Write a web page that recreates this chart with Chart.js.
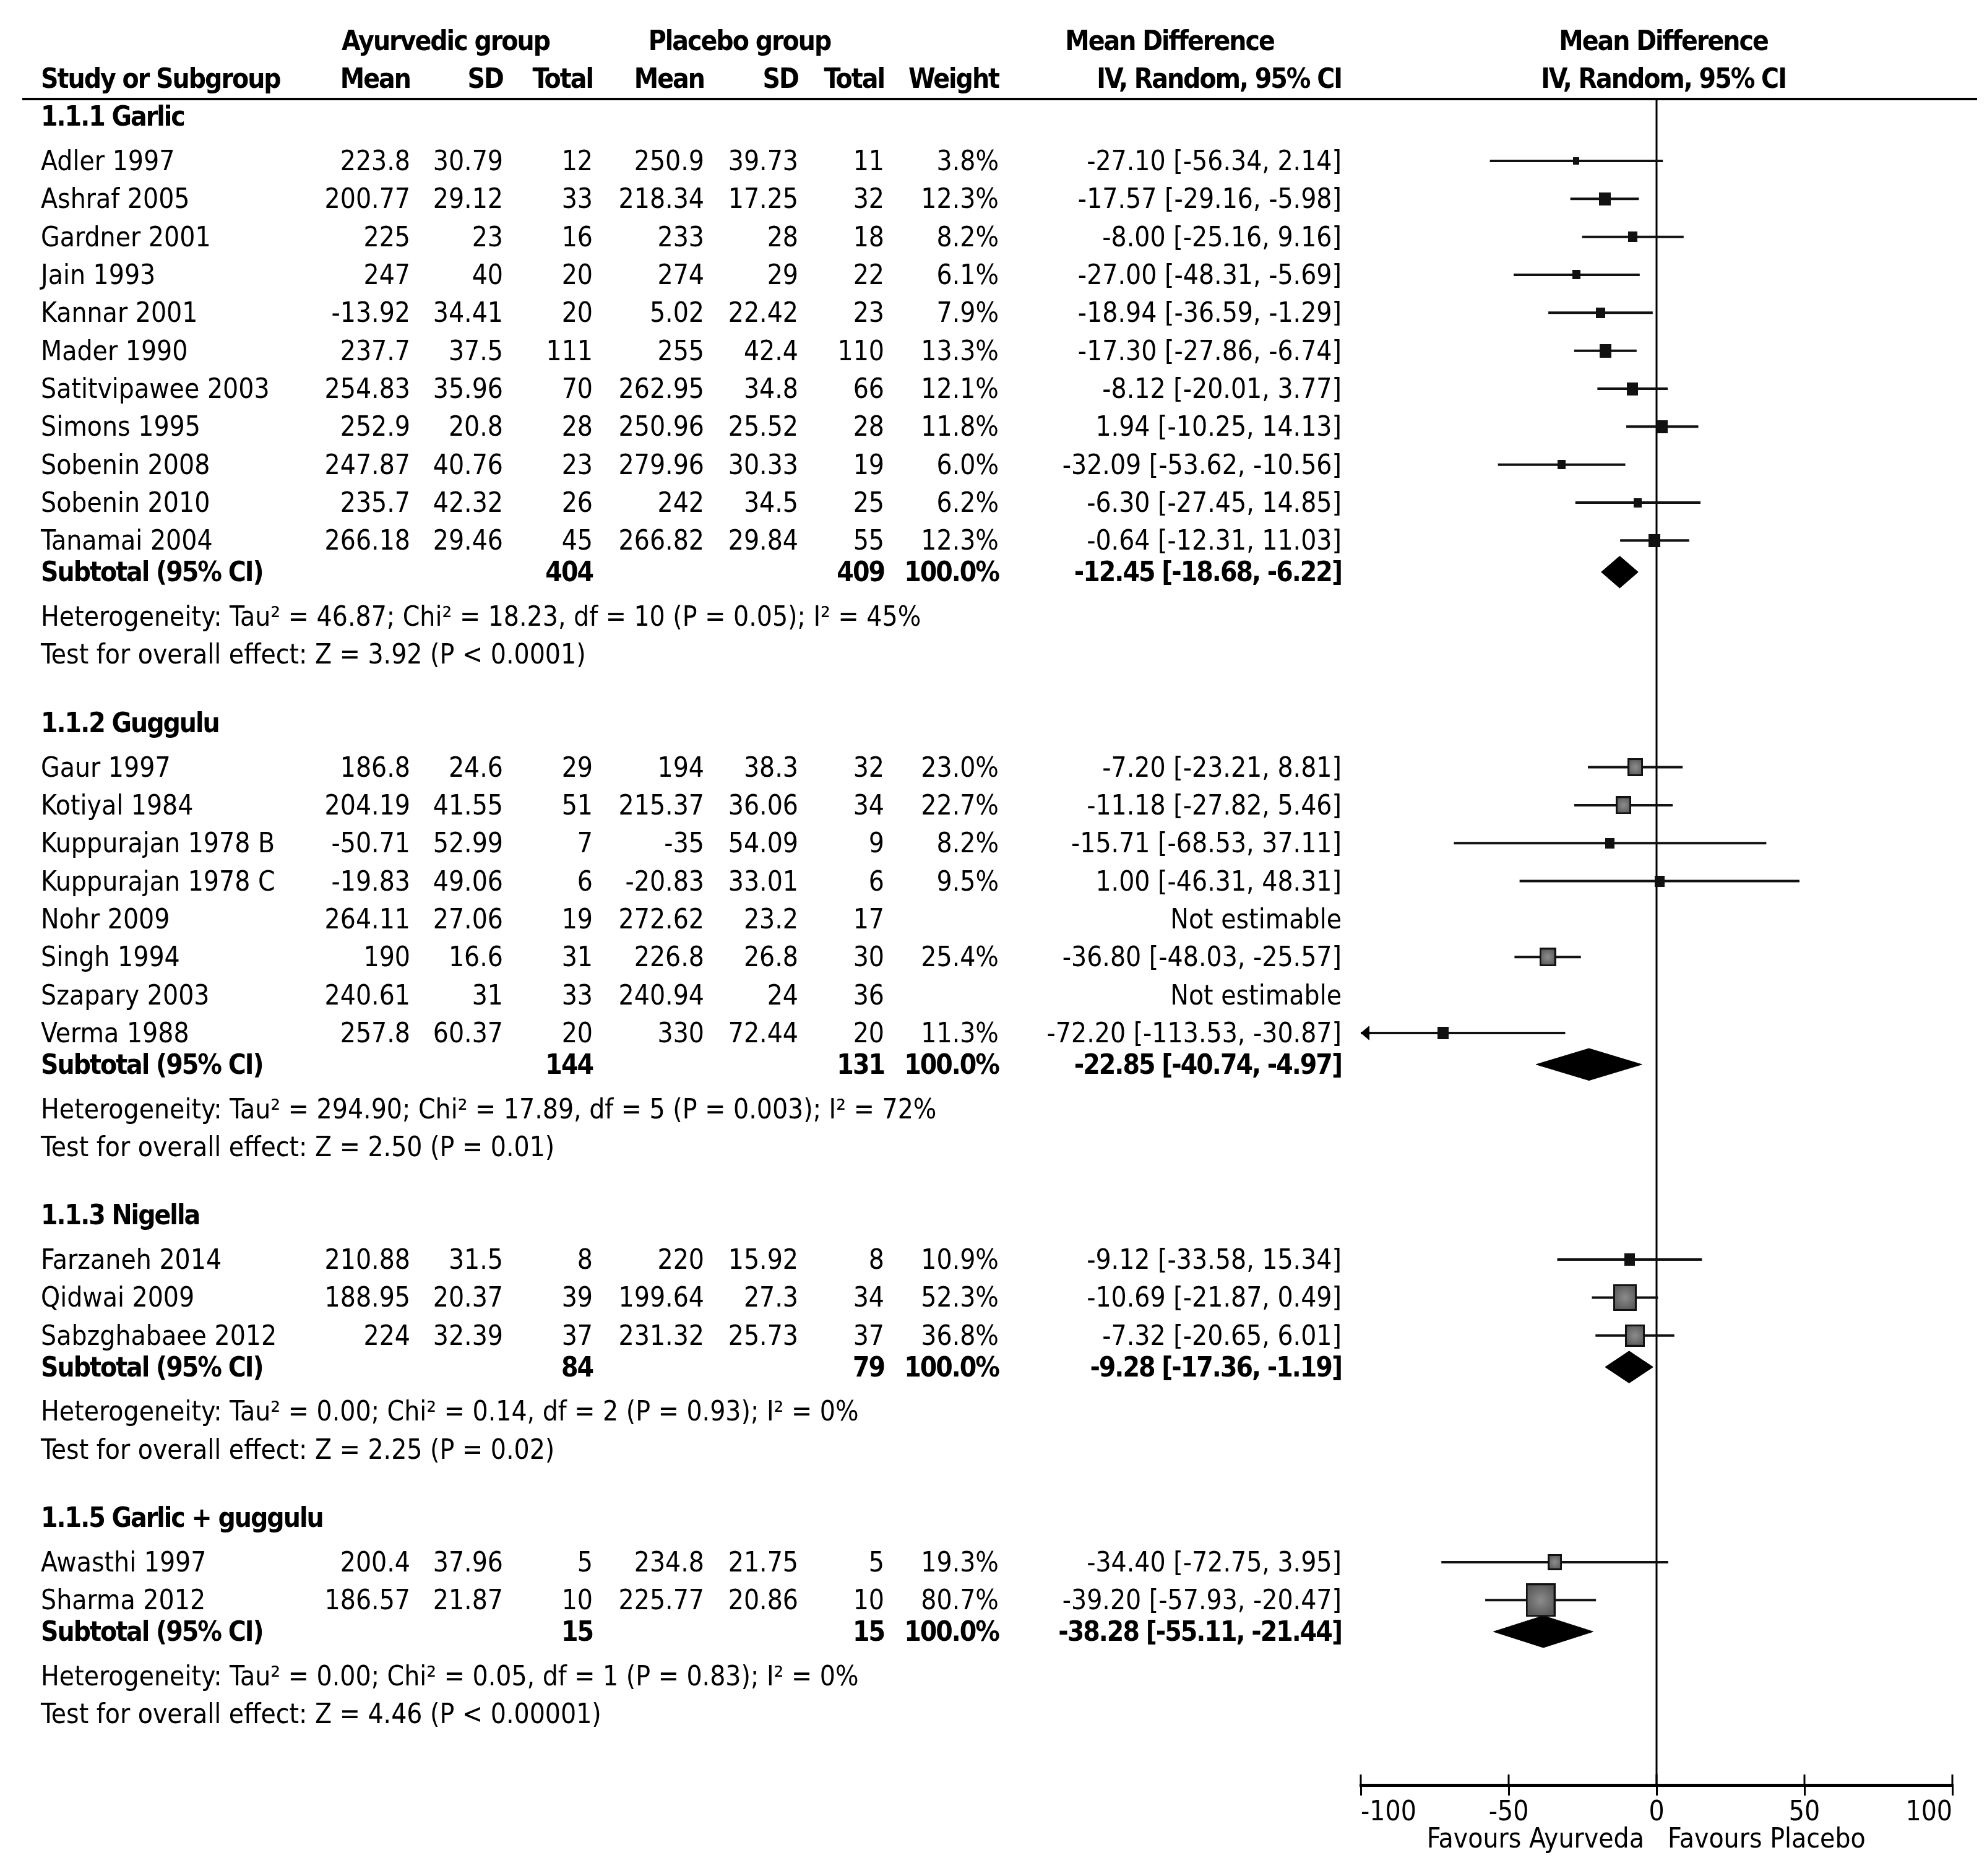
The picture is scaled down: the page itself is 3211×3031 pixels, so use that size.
<!DOCTYPE html>
<html>
<head>
<meta charset="utf-8">
<script src="https://cdn.jsdelivr.net/npm/chart.js@4.4.1/dist/chart.umd.min.js"></script>
<style>
  html, body { margin: 0; padding: 0; background: #fff; }
  #wrap { position: relative; width: 3211px; height: 3031px; overflow: hidden; background: #fff; }
  #plot { position: absolute; left: 0; top: 0; }
  .t { position: absolute; white-space: nowrap; line-height: 1; font-family: "DejaVu Sans Condensed", "DejaVu Sans", sans-serif; font-size: 44px; color: #000; }
  .b { font-weight: bold; letter-spacing: -2px; }
</style>
</head>
<body>
<div id="wrap"><canvas id="plot" width="3211" height="3031"></canvas></div>
<script>
// --- data ---
const groupTitles = ['1.1.1 Garlic', '1.1.2 Guggulu', '1.1.3 Nigella', '1.1.5 Garlic + guggulu']

const studyNames = [
  'Adler 1997', 'Ashraf 2005', 'Gardner 2001', 'Jain 1993', 'Kannar 2001', 'Mader 1990',
  'Satitvipawee 2003', 'Simons 1995', 'Sobenin 2008', 'Sobenin 2010', 'Tanamai 2004',
  'Gaur 1997', 'Kotiyal 1984', 'Kuppurajan 1978 B', 'Kuppurajan 1978 C', 'Nohr 2009',
  'Singh 1994', 'Szapary 2003', 'Verma 1988',
  'Farzaneh 2014', 'Qidwai 2009', 'Sabzghabaee 2012',
  'Awasthi 1997', 'Sharma 2012'
]
const studyGroup = [0,0,0,0,0,0,0,0,0,0,0, 1,1,1,1,1,1,1,1, 2,2,2, 3,3]

const ayMean = ['223.8','200.77','225','247','-13.92','237.7','254.83','252.9','247.87','235.7','266.18',
  '186.8','204.19','-50.71','-19.83','264.11','190','240.61','257.8',
  '210.88','188.95','224', '200.4','186.57']
const aySd = ['30.79','29.12','23','40','34.41','37.5','35.96','20.8','40.76','42.32','29.46',
  '24.6','41.55','52.99','49.06','27.06','16.6','31','60.37',
  '31.5','20.37','32.39', '37.96','21.87']
const ayTotal = [12,33,16,20,20,111,70,28,23,26,45, 29,51,7,6,19,31,33,20, 8,39,37, 5,10]

const plMean = ['250.9','218.34','233','274','5.02','255','262.95','250.96','279.96','242','266.82',
  '194','215.37','-35','-20.83','272.62','226.8','240.94','330',
  '220','199.64','231.32', '234.8','225.77']
const plSd = ['39.73','17.25','28','29','22.42','42.4','34.8','25.52','30.33','34.5','29.84',
  '38.3','36.06','54.09','33.01','23.2','26.8','24','72.44',
  '15.92','27.3','25.73', '21.75','20.86']
const plTotal = [11,32,18,22,23,110,66,28,19,25,55, 32,34,9,6,17,30,36,20, 8,34,37, 5,10]

const weights = [3.8,12.3,8.2,6.1,7.9,13.3,12.1,11.8,6.0,6.2,12.3,
  23.0,22.7,8.2,9.5,null,25.4,null,11.3, 10.9,52.3,36.8, 19.3,80.7]
const meanDiff = [-27.10,-17.57,-8.00,-27.00,-18.94,-17.30,-8.12,1.94,-32.09,-6.30,-0.64,
  -7.20,-11.18,-15.71,1.00,null,-36.80,null,-72.20, -9.12,-10.69,-7.32, -34.40,-39.20]
const ciLow = [-56.34,-29.16,-25.16,-48.31,-36.59,-27.86,-20.01,-10.25,-53.62,-27.45,-12.31,
  -23.21,-27.82,-68.53,-46.31,null,-48.03,null,-113.53, -33.58,-21.87,-20.65, -72.75,-57.93]
const ciHigh = [2.14,-5.98,9.16,-5.69,-1.29,-6.74,3.77,14.13,-10.56,14.85,11.03,
  8.81,5.46,37.11,48.31,null,-25.57,null,-30.87, 15.34,0.49,6.01, 3.95,-20.47]

const subAyTotal = [404, 144, 84, 15]
const subPlTotal = [409, 131, 79, 15]
const subMeanDiff = [-12.45, -22.85, -9.28, -38.28]
const subLow = [-18.68, -40.74, -17.36, -55.11]
const subHigh = [-6.22, -4.97, -1.19, -21.44]

const hetTexts = [
  'Heterogeneity: Tau² = 46.87; Chi² = 18.23, df = 10 (P = 0.05); I² = 45%',
  'Heterogeneity: Tau² = 294.90; Chi² = 17.89, df = 5 (P = 0.003); I² = 72%',
  'Heterogeneity: Tau² = 0.00; Chi² = 0.14, df = 2 (P = 0.93); I² = 0%',
  'Heterogeneity: Tau² = 0.00; Chi² = 0.05, df = 1 (P = 0.83); I² = 0%'
]
const testTexts = [
  'Test for overall effect: Z = 3.92 (P < 0.0001)',
  'Test for overall effect: Z = 2.50 (P = 0.01)',
  'Test for overall effect: Z = 2.25 (P = 0.02)',
  'Test for overall effect: Z = 4.46 (P < 0.00001)'
]

const xTicks = [-100, -50, 0, 50, 100]
const favoursLabels = ['Favours Ayurveda', 'Favours Placebo']

// --- row layout (in row units, top of the plot = 0) ---
const titleRow = [], studyRow = [], subRow = [], hetRow = [], testRow = []
let u = 0.46
groupTitles.forEach((g, gi) => {
  titleRow.push(u)
  u += 1.17
  studyNames.forEach((s, i) => {
    if (studyGroup[i] === gi) { studyRow[i] = u; u += 1 }
  })
  u -= 0.17
  subRow.push(u)
  u += 1.17
  hetRow.push(u)
  u += 1
  testRow.push(u)
  u += 1.8
})
const yMax = testRow[testRow.length - 1] + 1.87

// weight boxes as little canvases used as point styles
function boxImage(w) {
  const bw = Math.max(9, Math.round(5.3 * Math.sqrt(w)))
  const bh = Math.max(10, Math.round(6.0 * Math.sqrt(w)))
  const c = document.createElement('canvas')
  c.width = bw
  c.height = bh
  const g = c.getContext('2d')
  g.fillStyle = '#111'
  g.fillRect(0, 0, bw, bh)
  if (bw > 21) {
    const grad = g.createRadialGradient(bw / 2, bh / 2, 1, bw / 2, bh / 2, Math.max(bw, bh) / 2)
    grad.addColorStop(0, '#8a8a8a')
    grad.addColorStop(1, '#5a5a5a')
    g.fillStyle = grad
    g.fillRect(3, 3, bw - 6, bh - 6)
  }
  return c
}

const ciPoints = []
const boxPoints = []
const boxImages = []
meanDiff.forEach((m, i) => {
  if (m === null) return
  ciPoints.push({ x: ciLow[i], y: studyRow[i] }, { x: ciHigh[i], y: studyRow[i] }, { x: null, y: null })
  boxPoints.push({ x: m, y: studyRow[i] })
  boxImages.push(boxImage(weights[i]))
})

const diamondHalf = 0.42
const diamondSets = subMeanDiff.map((m, gi) => ({
  type: 'scatter',
  data: [
    { x: subLow[gi], y: subRow[gi] },
    { x: m, y: subRow[gi] - diamondHalf },
    { x: subHigh[gi], y: subRow[gi] },
    { x: m, y: subRow[gi] + diamondHalf },
    { x: subLow[gi], y: subRow[gi] }
  ],
  showLine: true,
  fill: 'shape',
  backgroundColor: '#000',
  borderColor: '#000',
  borderWidth: 1,
  pointRadius: 0,
  tension: 0,
  order: 2
}))

const forestExtras = {
  id: 'forestExtras',
  beforeDatasetsDraw(chart) {
    const { ctx, chartArea, scales: { x } } = chart
    ctx.save()
    ctx.strokeStyle = '#000'
    // rule under the column headers
    ctx.lineWidth = 4
    ctx.beginPath()
    ctx.moveTo(36, chartArea.top)
    ctx.lineTo(3195, chartArea.top)
    ctx.stroke()
    // line of no effect
    const x0 = x.getPixelForValue(0)
    ctx.lineWidth = 3
    ctx.beginPath()
    ctx.moveTo(x0, chartArea.top)
    ctx.lineTo(x0, chartArea.bottom)
    ctx.stroke()
    // tick marks also reach above the axis
    x.ticks.forEach(t => {
      const px = x.getPixelForValue(t.value)
      ctx.beginPath()
      ctx.moveTo(px, chartArea.bottom - 17)
      ctx.lineTo(px, chartArea.bottom)
      ctx.stroke()
    })
    ctx.restore()
  },
  afterDatasetsDraw(chart) {
    // arrow heads where a CI runs off the scale
    const { ctx, scales: { x, y } } = chart
    ctx.save()
    ctx.fillStyle = '#000'
    meanDiff.forEach((m, i) => {
      if (m === null) return
      const py = y.getPixelForValue(studyRow[i])
      if (ciLow[i] < x.min) {
        const px = x.getPixelForValue(x.min)
        ctx.beginPath()
        ctx.moveTo(px, py)
        ctx.lineTo(px + 14, py - 12)
        ctx.lineTo(px + 14, py + 12)
        ctx.closePath()
        ctx.fill()
      }
      if (ciHigh[i] > x.max) {
        const px = x.getPixelForValue(x.max)
        ctx.beginPath()
        ctx.moveTo(px, py)
        ctx.lineTo(px - 14, py - 12)
        ctx.lineTo(px - 14, py + 12)
        ctx.closePath()
        ctx.fill()
      }
    })
    ctx.restore()
  }
}

const chart = new Chart(document.getElementById('plot'), {
  type: 'scatter',
  data: {
    datasets: [
      {
        data: ciPoints,
        showLine: true,
        spanGaps: false,
        borderColor: '#111',
        borderWidth: 4,
        pointRadius: 0,
        order: 3
      },
      {
        data: boxPoints,
        showLine: false,
        pointStyle: ctx => boxImages[ctx.dataIndex],
        pointRadius: 5,
        order: 1
      },
      ...diamondSets
    ]
  },
  options: {
    responsive: false,
    animation: false,
    events: [],
    layout: { padding: { left: 2199, right: 56, top: 160, bottom: 0 } },
    plugins: { legend: { display: false }, tooltip: { enabled: false } },
    scales: {
      x: {
        type: 'linear',
        min: -100,
        max: 100,
        afterBuildTicks: scale => { scale.ticks = xTicks.map(v => ({ value: v })) },
        afterFit: scale => { scale.height = 147 },
        border: { display: true, color: '#000', width: 5 },
        grid: { drawOnChartArea: false, drawTicks: true, tickLength: 17, lineWidth: 3, color: '#000' },
        ticks: {
          align: 'inner',
          padding: 2,
          color: '#000',
          font: { family: '"DejaVu Sans Condensed", "DejaVu Sans", sans-serif', size: 44 }
        }
      },
      y: {
        type: 'linear',
        display: false,
        reverse: true,
        min: 0,
        max: yMax
      }
    }
  },
  plugins: [forestExtras]
})

// --- table text, placed on the same rows as the plot ---
const wrap = document.getElementById('wrap')
const yPx = v => chart.scales.y.getPixelForValue(v)
function put(text, xPos, row, align, bold) {
  const el = document.createElement('div')
  el.className = 't' + (bold ? ' b' : '')
  el.textContent = text
  el.style.left = xPos + 'px'
  el.style.top = yPx(row) + 'px'
  const tx = align === 'right' ? '-100%' : align === 'center' ? '-50%' : '0'
  el.style.transform = 'translate(' + tx + ', -50%)'
  wrap.appendChild(el)
}
const fmt = v => v.toFixed(2)
const ciText = (m, lo, hi) => fmt(m) + ' [' + fmt(lo) + ', ' + fmt(hi) + ']'

const col = { name: 66, ayMean: 663, aySd: 813, ayTotal: 958, plMean: 1138, plSd: 1290, plTotal: 1429, weight: 1614, md: 2168 }
const head1 = -1.53
const head2 = -0.54
const plotMid = chart.scales.x.getPixelForValue(0) + 11

put('Ayurvedic group', 720, head1, 'center', true)
put('Placebo group', 1195, head1, 'center', true)
put('Mean Difference', 1890, head1, 'center', true)
put('Mean Difference', plotMid, head1, 'center', true)
put('Study or Subgroup', col.name, head2, 'left', true)
put('Mean', col.ayMean, head2, 'right', true)
put('SD', col.aySd, head2, 'right', true)
put('Total', col.ayTotal, head2, 'right', true)
put('Mean', col.plMean, head2, 'right', true)
put('SD', col.plSd, head2, 'right', true)
put('Total', col.plTotal, head2, 'right', true)
put('Weight', col.weight, head2, 'right', true)
put('IV, Random, 95% CI', col.md, head2, 'right', true)
put('IV, Random, 95% CI', plotMid, head2, 'center', true)

groupTitles.forEach((g, gi) => {
  put(g, col.name, titleRow[gi], 'left', true)
  put('Subtotal (95% CI)', col.name, subRow[gi], 'left', true)
  put(String(subAyTotal[gi]), col.ayTotal, subRow[gi], 'right', true)
  put(String(subPlTotal[gi]), col.plTotal, subRow[gi], 'right', true)
  put('100.0%', col.weight, subRow[gi], 'right', true)
  put(ciText(subMeanDiff[gi], subLow[gi], subHigh[gi]), col.md, subRow[gi], 'right', true)
  put(hetTexts[gi], col.name, hetRow[gi], 'left', false)
  put(testTexts[gi], col.name, testRow[gi], 'left', false)
})

studyNames.forEach((s, i) => {
  const r = studyRow[i]
  put(s, col.name, r, 'left', false)
  put(ayMean[i], col.ayMean, r, 'right', false)
  put(aySd[i], col.aySd, r, 'right', false)
  put(String(ayTotal[i]), col.ayTotal, r, 'right', false)
  put(plMean[i], col.plMean, r, 'right', false)
  put(plSd[i], col.plSd, r, 'right', false)
  put(String(plTotal[i]), col.plTotal, r, 'right', false)
  if (meanDiff[i] === null) {
    put('Not estimable', col.md, r, 'right', false)
  } else {
    put(weights[i].toFixed(1) + '%', col.weight, r, 'right', false)
    put(ciText(meanDiff[i], ciLow[i], ciHigh[i]), col.md, r, 'right', false)
  }
})

const favRow = yMax + 1.4
const zeroPx = chart.scales.x.getPixelForValue(0)
put(favoursLabels[0], zeroPx - 20, favRow, 'right', false)
put(favoursLabels[1], zeroPx + 18, favRow, 'left', false)
</script>
</body>
</html>
